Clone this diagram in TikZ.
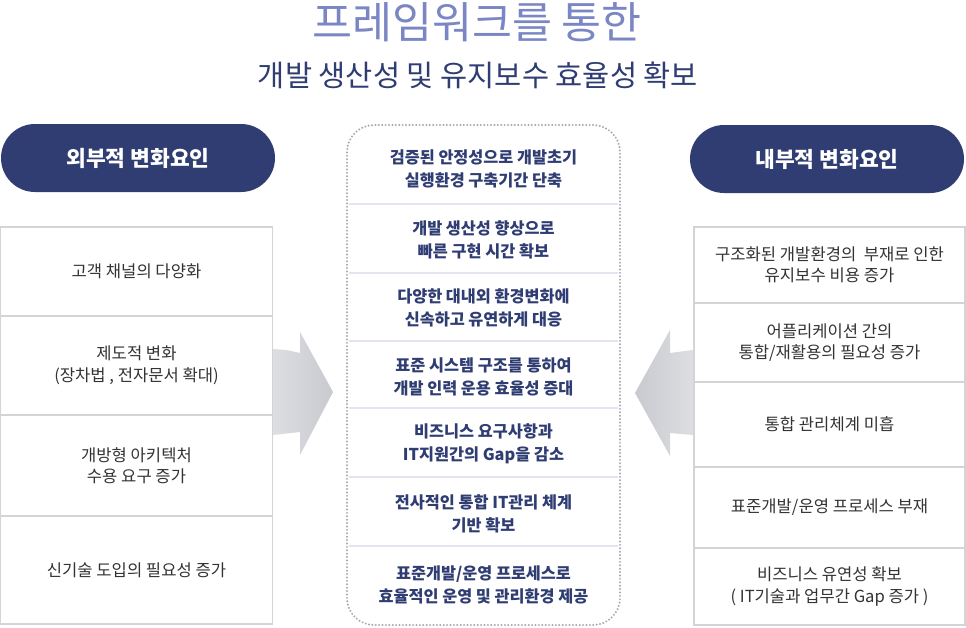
\documentclass[tikz,border=0pt]{standalone}
\usepackage{fontspec}
\setmainfont{Noto Sans CJK KR}
\usepackage{tikz}
\usetikzlibrary{positioning}
\definecolor{FWTitle}{HTML}{7B87C5}
\definecolor{FWNavy}{HTML}{2F3D73}
\definecolor{FWLine}{HTML}{D3D3D8}
\definecolor{FWDiv}{HTML}{E2E5F1}
\definecolor{FWDot}{HTML}{A8A8B0}
\definecolor{FWText}{HTML}{333333}
\definecolor{FWArrowA}{HTML}{DDDEE2}
\definecolor{FWArrowB}{HTML}{C9CACF}

\tikzset{
  pill/.style={fill=FWNavy,text=white,rounded corners=34pt,minimum width=274pt,minimum height=68pt,font=\fontsize{21.5}{26}\selectfont\bfseries},
  sidebox/.style={draw=FWLine,line width=1.2pt,fill=white,minimum width=272pt,inner sep=0pt,align=center,text=FWText,font=\fontsize{16.6}{21.5}\selectfont},
  midtext/.style={align=center,text=FWNavy,font=\fontsize{16.3}{23}\selectfont\bfseries}
}

\begin{document}
\begin{tikzpicture}[x=1pt,y=-1pt]
\useasboundingbox[fill=white] (0,0) rectangle (966,627);

\node[text=FWTitle,font=\fontsize{43.5}{46}\selectfont] (title) at (477,22) {프레임워크를 통한};
\node[text=FWNavy,font=\fontsize{29.5}{32}\selectfont] (subtitle) at (478,75) {개발 생산성 및 유지보수 효율성 확보};

% left side
\node[pill] (ext) at (138,158) {외부적 변화요인};
\node[sidebox,minimum height=89pt] (ext1) at (136.5,271.5) {고객 채널의 다양화};
\node[sidebox,minimum height=99pt] (ext2) at (136.5,365.5) {제도적 변화\\(장차법 , 전자문서 확대)};
\node[sidebox,minimum height=101pt] (ext3) at (136.5,465.5) {개방형 아키텍처\\수용 요구 증가};
\node[sidebox,minimum height=108pt] (ext4) at (136.5,570) {신기술 도입의 필요성 증가};

% right side
\node[pill] (int) at (827,159) {내부적 변화요인};
\node[sidebox,minimum width=271pt,minimum height=76pt] (int1) at (829.5,265) {구조화된 개발환경의 \ 부재로 인한\\유지보수 비용 증가};
\node[sidebox,minimum width=271pt,minimum height=79pt] (int2) at (829.5,342.5) {어플리케이션 간의\\통합/재활용의 필요성 증가};
\node[sidebox,minimum width=271pt,minimum height=85pt] (int3) at (829.5,424.5) {통합 관리체계 미흡};
\node[sidebox,minimum width=271pt,minimum height=81pt] (int4) at (829.5,507.5) {표준개발/운영 프로세스 부재};
\node[sidebox,minimum width=271pt,minimum height=77pt] (int5) at (829.5,586.5) {비즈니스 유연성 확보\\( IT기술과 업무간 Gap 증가 )};

% center panel
\node[draw=FWDot,line width=2.2pt,dash pattern=on 0pt off 3.4pt,line cap=round,rounded corners=27pt,minimum width=273pt,minimum height=500pt] (panel) at (483.5,375) {};
\foreach \y in {204,273,341,408,477,546}
  \draw[FWDiv,line width=1.5pt] (349,\y) -- (618,\y);
\node[midtext] (fw1) at (483.5,168.5) {검증된 안정성으로 개발초기\\실행환경 구축기간 단축};
\node[midtext] (fw2) at (483.5,240) {개발 생산성 향상으로\\빠른 구현 시간 확보};
\node[midtext] (fw3) at (483.5,308) {다양한 대내외 환경변화에\\신속하고 유연하게 대응};
\node[midtext] (fw4) at (483.5,376.5) {표준 시스템 구조를 통하여\\개발 인력 운용 효율성 증대};
\node[midtext] (fw5) at (483.5,444) {비즈니스 요구사항과\\IT지원간의 Gap을 감소};
\node[midtext] (fw6) at (483.5,514) {전사적인 통합 IT관리 체계\\기반 확보};
\node[midtext] (fw7) at (483.5,585) {표준개발/운영 프로세스로\\효율적인 운영 및 관리환경 제공};

% block arrows
\shade[left color=FWArrowA,right color=FWArrowB] (273,349) .. controls (287,350) .. (300,353) -- (300,332) -- (333,392) -- (300,455) -- (300,432) .. controls (287,433) .. (273,435) -- cycle;
\shade[left color=FWArrowB,right color=FWArrowA] (693,350) .. controls (681,351) .. (670,353) -- (670,330) -- (635,393) -- (670,456) -- (670,433) .. controls (681,434) .. (693,435) -- cycle;
\end{tikzpicture}
\end{document}
